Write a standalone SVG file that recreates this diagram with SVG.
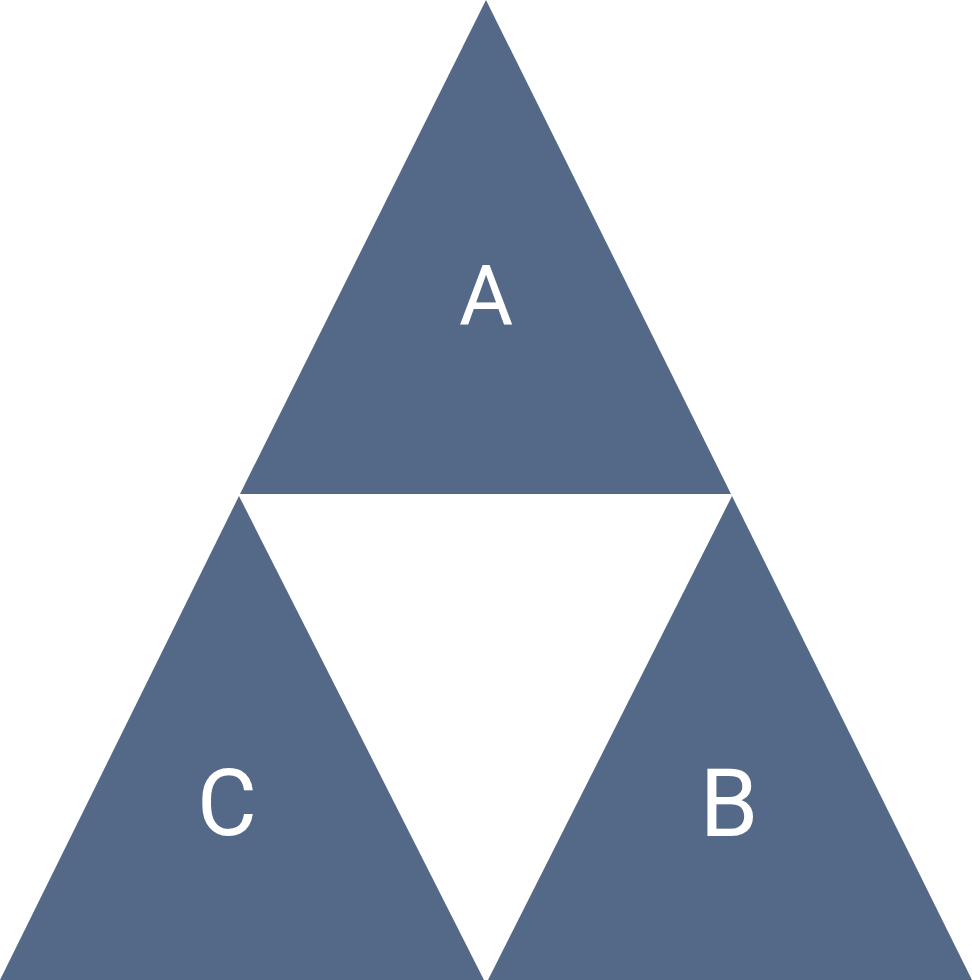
<svg xmlns="http://www.w3.org/2000/svg" width="972" height="980" viewBox="0 0 972 980">
<style>
.tri{fill:#546987;}
.lbl{fill:#ffffff;font-family:Roboto,"Liberation Sans",sans-serif;text-anchor:middle;}
</style>
<rect width="972" height="980" fill="#ffffff"/>
<g id="A">
<polygon class="tri" points="486,0 731,494 240,494"/>
<text class="lbl" x="486" y="325" font-size="83">A</text>
</g>
<g id="C">
<polygon class="tri" points="239,496 484,980 0,980"/>
<text class="lbl" x="227" y="835" font-size="92">C</text>
</g>
<g id="B">
<polygon class="tri" points="732,496 972,980 488,980"/>
<text class="lbl" x="729" y="836" font-size="94">B</text>
</g>
<g id="connectors"></g>
</svg>
